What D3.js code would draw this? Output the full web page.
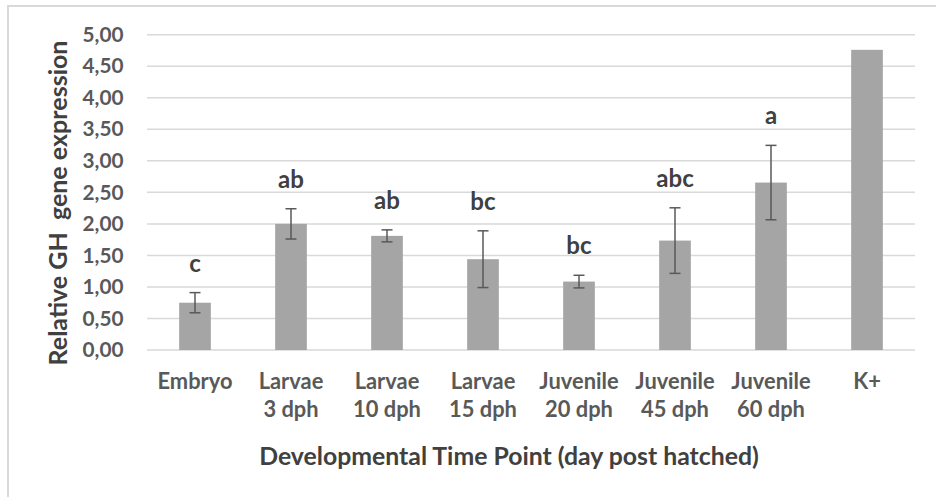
<!DOCTYPE html>
<html>
<head>
<meta charset="utf-8">
<script src="https://cdn.jsdelivr.net/npm/d3@7"></script>
<style>
  body { margin: 0; background: #fff; }
  svg { display: block; font-family: Lato, "Open Sans", sans-serif; font-weight: 700; }
</style>
</head>
<body>
<svg id="chart" width="936" height="497"></svg>
<script>
// data
const categories = [
  ["Embryo"],
  ["Larvae", "3 dph"],
  ["Larvae", "10 dph"],
  ["Larvae", "15 dph"],
  ["Juvenile", "20 dph"],
  ["Juvenile", "45 dph"],
  ["Juvenile", "60 dph"],
  ["K+"],
];
const means = [0.75, 2.00, 1.81, 1.44, 1.085, 1.735, 2.655, 4.76];
const errors = [0.16, 0.24, 0.095, 0.45, 0.10, 0.52, 0.59, null];
const letters = ["c", "ab", "ab", "bc", "bc", "abc", "a", ""];
const yTicks = [0, 0.5, 1, 1.5, 2, 2.5, 3, 3.5, 4, 4.5, 5];

const svg = d3.select("#chart");
const margin = { left: 147, right: 21, top: 34.7, bottom: 147 };
const W = 936, H = 497;

// font size that makes a sample string a given width
function fitSize(sample, width) {
  const t = svg.append("text").attr("font-size", 20).text(sample);
  const len = t.node().getComputedTextLength();
  t.remove();
  return 20 * width / len;
}
const tickSize = fitSize("5,00", 41);
const catSize = fitSize("Embryo", 75);
const letterSize = fitSize("abc", 37.5);
const xTitleSize = fitSize("Developmental Time Point (day post hatched)", 500);
const yTitleSize = fitSize("Relative GH  gene expression", 319);

// chart frame
svg.append("path")
  .attr("d", `M8,497 L8,6 L936,6`)
  .attr("fill", "none")
  .attr("stroke", "#d9d9d9")
  .attr("stroke-width", 2);

const x = d3.scaleBand()
  .domain(d3.range(categories.length))
  .range([margin.left, W - margin.right])
  .paddingInner(0.67)
  .paddingOuter(0.335);

const y = d3.scaleLinear()
  .domain([0, 5])
  .range([350, margin.top]);

const fmt = (v) => v.toFixed(2).replace(".", ",");

// gridlines
svg.append("g")
  .selectAll("line")
  .data(yTicks)
  .join("line")
  .attr("x1", margin.left)
  .attr("x2", W - margin.right)
  .attr("y1", (d) => y(d))
  .attr("y2", (d) => y(d))
  .attr("stroke", "#d9d9d9")
  .attr("stroke-width", 1.5);

// y axis labels
const yAxis = svg.append("g")
  .attr("transform", `translate(${margin.left - 23.5},0)`)
  .call(d3.axisLeft(y).tickValues(yTicks).tickFormat(fmt).tickSize(0).tickPadding(0));
yAxis.select(".domain").remove();
yAxis.selectAll("text")
  .attr("fill", "#595959")
  .attr("font-size", tickSize)
  .attr("font-family", "Lato, sans-serif")
  .attr("font-weight", 700);

// bars
svg.append("g")
  .selectAll("rect")
  .data(means)
  .join("rect")
  .attr("x", (d, i) => x(i))
  .attr("width", x.bandwidth())
  .attr("y", (d) => y(d))
  .attr("height", (d) => y(0) - y(d))
  .attr("fill", "#a5a5a5");

// error bars
const eb = svg.append("g")
  .attr("stroke", "#595959")
  .attr("stroke-width", 1.5)
  .selectAll("g")
  .data(means.map((m, i) => ({ m, e: errors[i], i })).filter((d) => d.e != null))
  .join("g");
const cx = (i) => x(i) + x.bandwidth() / 2;
eb.append("line")
  .attr("x1", (d) => cx(d.i)).attr("x2", (d) => cx(d.i))
  .attr("y1", (d) => y(d.m - d.e)).attr("y2", (d) => y(d.m + d.e));
eb.append("line")
  .attr("x1", (d) => cx(d.i) - 5.5).attr("x2", (d) => cx(d.i) + 5.5)
  .attr("y1", (d) => y(d.m + d.e)).attr("y2", (d) => y(d.m + d.e));
eb.append("line")
  .attr("x1", (d) => cx(d.i) - 5.5).attr("x2", (d) => cx(d.i) + 5.5)
  .attr("y1", (d) => y(d.m - d.e)).attr("y2", (d) => y(d.m - d.e));

// significance letters
svg.append("g")
  .selectAll("text")
  .data(letters)
  .join("text")
  .attr("x", (d, i) => cx(i))
  .attr("y", (d, i) => y(means[i] + (errors[i] || 0)) - 21)
  .attr("text-anchor", "middle")
  .attr("fill", "#404040")
  .attr("font-size", letterSize)
  .text((d) => d);

// x category labels
const xl = svg.append("g")
  .selectAll("text")
  .data(categories)
  .join("text")
  .attr("x", (d, i) => cx(i))
  .attr("y", 388.5)
  .attr("text-anchor", "middle")
  .attr("fill", "#595959")
  .attr("font-size", catSize);
xl.selectAll("tspan")
  .data((d) => d)
  .join("tspan")
  .attr("x", function () { return d3.select(this.parentNode).attr("x"); })
  .attr("dy", (d, i) => (i === 0 ? 0 : 28.5))
  .text((d) => d);

// axis titles
svg.append("text")
  .attr("x", 509)
  .attr("y", 465)
  .attr("text-anchor", "middle")
  .attr("fill", "#404040")
  .attr("font-size", xTitleSize)
  .text("Developmental Time Point (day post hatched)");

svg.append("text")
  .attr("transform", `translate(67,${203}) rotate(-90)`)
  .attr("text-anchor", "middle")
  .attr("fill", "#404040")
  .attr("font-size", yTitleSize)
  .attr("xml:space", "preserve")
  .style("white-space", "pre")
  .text("Relative GH  gene expression");
</script>
</body>
</html>
